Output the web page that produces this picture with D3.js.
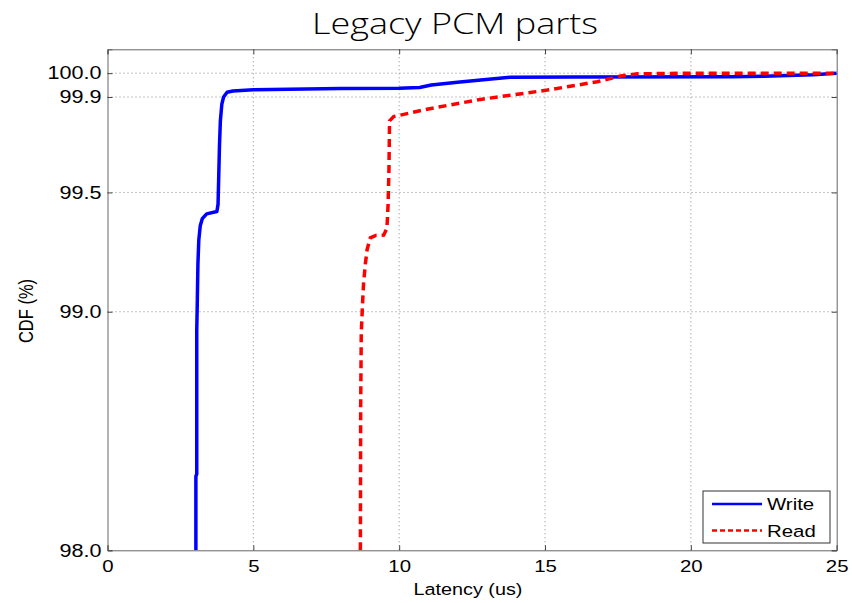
<!DOCTYPE html>
<html>
<head>
  <title>Legacy PCM parts</title>
  <script src="https://cdn.jsdelivr.net/npm/d3@7"></script>
  <style>
    body { margin: 0; background: #fff; }
    svg text { font-family: "Liberation Sans", Arial, sans-serif; fill: #000; }
  </style>
</head>
<body>
  <div id="chart"></div>
  <script>
    // values
    var xTicks = [0, 5, 10, 15, 20, 25];
    var yTicks = [98.0, 99.0, 99.5, 99.9, 100.0];

    var writeLatency = [3.03, 3.03, 3.06, 3.06, 3.08, 3.10, 3.13, 3.18, 3.25, 3.40, 3.75, 3.79, 3.81, 3.84, 3.87, 3.92, 3.98, 4.10, 4.30, 5.0, 8.0, 10.0, 10.7, 11.1, 12.0, 12.8, 13.8, 16.0, 21.4, 22.5, 24.2, 25.0];
    var writeCdf = [98.00, 98.31, 98.32, 98.92, 99.05, 99.20, 99.30, 99.36, 99.39, 99.41, 99.42, 99.45, 99.55, 99.70, 99.80, 99.87, 99.90, 99.92, 99.925, 99.93, 99.936, 99.937, 99.94, 99.95, 99.962, 99.971, 99.983, 99.984, 99.985, 99.987, 99.993, 100.0];

    var readLatency = [8.67, 8.68, 8.70, 8.75, 8.78, 8.84, 8.90, 9.01, 9.20, 9.47, 9.58, 9.62, 9.65, 9.67, 9.81, 11.0, 12.79, 15.08, 16.79, 17.59, 18.17, 20.0, 25.0];
    var readCdf = [98.00, 98.60, 98.91, 99.05, 99.12, 99.20, 99.26, 99.31, 99.32, 99.321, 99.35, 99.45, 99.60, 99.80, 99.818, 99.85, 99.89, 99.929, 99.964, 99.988, 99.997, 100.0, 100.0];

    var seriesNames = ["Write", "Read"];

    var W = 854, H = 603;
    var margin = {left: 107.5, top: 49.3, right: 17.3, bottom: 52.7};
    var width = W - margin.left - margin.right;
    var height = H - margin.top - margin.bottom;
    var sx = 1.2; // the reference text is a bit wide

    var svg = d3.select("#chart").append("svg")
        .attr("width", W)
        .attr("height", H);

    var x = d3.scaleLinear().domain([0, 25]).range([0, width]);
    var y = d3.scaleLinear().domain([98, 100.1]).range([height, 0]);

    svg.append("text")
        .attr("transform", "translate(455,34) scale(" + sx + ",1)")
        .attr("text-anchor", "middle")
        .style("font-family", "'Open Sans', sans-serif")
        .style("font-weight", 300)
        .style("font-size", "30px")
        .text("Legacy PCM parts");

    var g = svg.append("g")
        .attr("transform", "translate(" + margin.left + "," + margin.top + ")");

    g.append("clipPath").attr("id", "clip")
      .append("rect").attr("width", width).attr("height", height);

    // dotted grid
    g.selectAll(".gx").data(xTicks.slice(1, -1)).enter().append("line")
        .attr("x1", function(d) { return x(d); })
        .attr("x2", function(d) { return x(d); })
        .attr("y1", 0).attr("y2", height)
        .attr("stroke", "#888").attr("stroke-width", 1)
        .attr("stroke-dasharray", "1,3");
    g.selectAll(".gy").data(yTicks.slice(1)).enter().append("line")
        .attr("x1", 0).attr("x2", width)
        .attr("y1", function(d) { return y(d); })
        .attr("y2", function(d) { return y(d); })
        .attr("stroke", "#888").attr("stroke-width", 1)
        .attr("stroke-dasharray", "1,3");

    // axes, ticks point inward
    var xAxis = g.append("g")
        .attr("transform", "translate(0," + height + ")")
        .call(d3.axisBottom(x).tickValues(xTicks).tickSize(-5).tickPadding(10).tickFormat(d3.format("d")));
    var yAxis = g.append("g")
        .call(d3.axisLeft(y).tickValues(yTicks).tickSize(-5).tickPadding(6).tickFormat(d3.format(".1f")));
    g.append("g")
        .call(d3.axisTop(x).tickValues(xTicks).tickSize(-5).tickFormat(""));
    g.append("g")
        .attr("transform", "translate(" + width + ",0)")
        .call(d3.axisRight(y).tickValues(yTicks).tickSize(-5).tickFormat(""));

    g.selectAll(".domain").attr("stroke", "#666");
    g.selectAll(".tick line").attr("stroke", "#444");

    xAxis.selectAll("text")
        .style("font-size", "17px")
        .attr("transform", "scale(" + sx + ",1)");
    yAxis.selectAll("text")
        .style("font-size", "18px")
        .attr("x", -6 / sx)
        .attr("transform", "scale(" + sx + ",1)");

    // axis titles
    svg.append("text")
        .attr("transform", "translate(468,595) scale(" + sx + ",1)")
        .attr("text-anchor", "middle")
        .style("font-size", "16.5px")
        .text("Latency (us)");
    svg.append("text")
        .attr("transform", "translate(33,311) rotate(-90) scale(1,1.2)")
        .attr("text-anchor", "middle")
        .style("font-size", "16.5px")
        .text("CDF (%)");

    var line = d3.line()
        .x(function(d) { return x(d[0]); })
        .y(function(d) { return y(d[1]); });

    var writeData = d3.zip(writeLatency, writeCdf);
    var readData = d3.zip(readLatency, readCdf);

    var lines = g.append("g").attr("clip-path", "url(#clip)");
    lines.append("path")
        .datum(writeData)
        .attr("d", line)
        .attr("fill", "none")
        .attr("stroke", "#0000ff")
        .attr("stroke-width", 3.5)
        .attr("stroke-linejoin", "round");
    lines.append("path")
        .datum(readData)
        .attr("d", line)
        .attr("fill", "none")
        .attr("stroke", "#ff0000")
        .attr("stroke-width", 3.5)
        .attr("stroke-dasharray", "8,5");

    // legend
    var leg = svg.append("g").attr("transform", "translate(703,491)");
    leg.append("rect")
        .attr("width", 127).attr("height", 52)
        .attr("fill", "#fff").attr("stroke", "#333").attr("stroke-width", 1);
    var styles = [{c: "#0000ff", dash: null}, {c: "#ff0000", dash: "5,3"}];
    seriesNames.forEach(function(name, i) {
      var yy = 13 + i * 26.5;
      leg.append("line")
          .attr("x1", 9).attr("x2", 59)
          .attr("y1", yy).attr("y2", yy)
          .attr("stroke", styles[i].c)
          .attr("stroke-width", 2.5)
          .attr("stroke-dasharray", styles[i].dash);
      leg.append("text")
          .attr("transform", "translate(64," + (yy + 6) + ") scale(" + sx + ",1)")
          .style("font-size", "17px")
          .text(name);
    });
  </script>
</body>
</html>
